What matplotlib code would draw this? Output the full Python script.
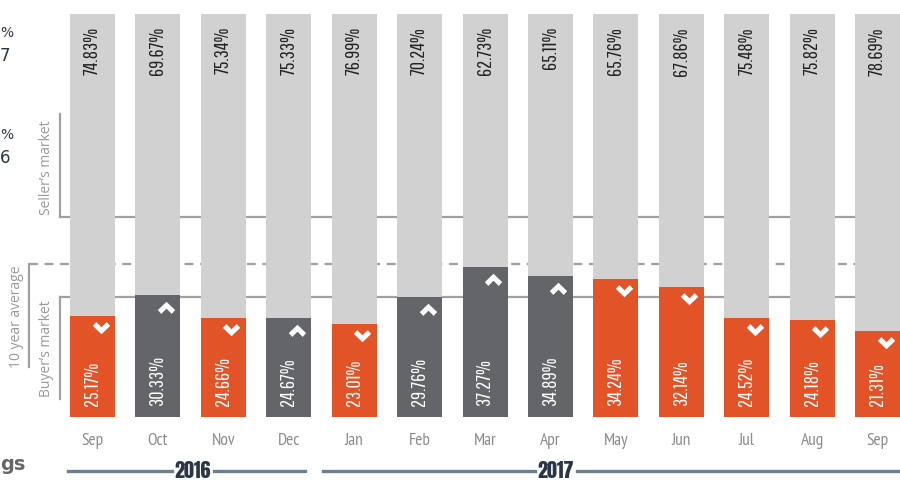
import matplotlib
matplotlib.use("Agg")
import matplotlib.pyplot as plt
from matplotlib.path import Path
import numpy as np

months = ["Sep", "Oct", "Nov", "Dec", "Jan", "Feb", "Mar", "Apr", "May", "Jun", "Jul", "Aug", "Sep"]
buyers = [25.17, 30.33, 24.66, 24.67, 23.01, 29.76, 37.27, 34.89, 34.24, 32.14, 24.52, 24.18, 21.31]
sellers = [74.83, 69.67, 75.34, 75.33, 76.99, 70.24, 62.73, 65.11, 65.76, 67.86, 75.48, 75.82, 78.69]
trend = ["down", "up", "down", "up", "down", "up", "up", "up", "down", "down", "down", "down", "down"]
seller_threshold = 49.6
ten_year_avg = 38.0
buyer_threshold = 29.8
years = ["2016", "2017"]

ORANGE = "#E25328"
DARK = "#636569"
LIGHT = "#D1D1D1"
LINEC = "#A0A0A0"
THIN = ["Pathway Gothic One", "PT Sans Narrow", "DejaVu Sans"]
MONTHF = ["PT Sans Narrow", "DejaVu Sans"]
YEARF = ["Anton", "IBM Plex Sans Condensed", "DejaVu Sans"]

W, H = 900, 481
fig = plt.figure(figsize=(9, 4.81), dpi=100)
bot = (481 - 418) / 481
top = (481 - 15) / 481
ax = fig.add_axes([0, bot, 1, top - bot])
pxu = 65.42
x0 = 92.5
ax.set_xlim(-x0 / pxu, (W - x0) / pxu)
ax.set_ylim(0, 100)
ax.axis("off")

def px2x(p):
    return (p - x0) / pxu

x = np.arange(len(months))
colors = [DARK if t == "up" else ORANGE for t in trend]
bw = 45 / pxu
ax.bar(x, buyers, width=bw, color=colors, zorder=3)
ax.bar(x, sellers, bottom=buyers, width=bw, color=LIGHT, zorder=3)

# reference lines behind bars
ax.plot([px2x(60), px2x(900)], [seller_threshold] * 2, color=LINEC, lw=1.6, zorder=1, clip_on=False)
ax.plot([px2x(60), px2x(900)], [buyer_threshold] * 2, color=LINEC, lw=1.6, zorder=1, clip_on=False)
ax.plot([px2x(29), px2x(900)], [ten_year_avg] * 2, color=LINEC, lw=1.6, ls=(0, (4, 3)), zorder=1, clip_on=False)
# brackets
ax.plot([px2x(60), px2x(60)], [seller_threshold, seller_threshold + 25.5], color=LINEC, lw=1.6, clip_on=False)
ax.plot([px2x(60), px2x(60)], [buyer_threshold, buyer_threshold - 25.3], color=LINEC, lw=1.6, clip_on=False)
ax.plot([px2x(29), px2x(29)], [ten_year_avg, ten_year_avg - 25.5], color=LINEC, lw=1.6, clip_on=False)

lblkw = dict(rotation=90, color="#9A9A9A", fontsize=10, family=["Open Sans", "DejaVu Sans"], ha="center", va="center")
ax.text(px2x(47), seller_threshold + 12.4, "Seller\u2019s market", **lblkw)
ax.text(px2x(47), buyer_threshold - 12.5, "Buyer\u2019s market", **lblkw)
ax.text(px2x(17), ten_year_avg - 12.8, "10 year average", **lblkw)

# value labels
for xi, b, s in zip(x, buyers, sellers):
    ax.text(xi, 3.0, f"{b:.2f}%", rotation=90, color="white", fontsize=14.5,
            family=THIN, ha="center", va="bottom", zorder=5)
    ax.text(xi, 97.0, f"{s:.2f}%", rotation=90, color="#222222", fontsize=14.5,
            family=THIN, ha="center", va="top", zorder=5)

# chevrons
down = Path([(-1, 0.3), (-0.6, 0.74), (0, 0.14), (0.6, 0.74), (1, 0.3), (0, -0.66), (-1, 0.3)],
            [Path.MOVETO] + [Path.LINETO] * 5 + [Path.CLOSEPOLY])
up = Path([(-1, -0.3), (-0.6, -0.74), (0, -0.14), (0.6, -0.74), (1, -0.3), (0, 0.66), (-1, -0.3)],
          [Path.MOVETO] + [Path.LINETO] * 5 + [Path.CLOSEPOLY])
dy = 12 / 4.03
for xi, b, t in zip(x, buyers, trend):
    ax.plot([xi + 8 / pxu], [b - dy], marker=up if t == "up" else down, markersize=12.5,
            color="white", markeredgewidth=0, zorder=6, linestyle="none")

# month labels
for xi, m in zip(x, months):
    fig.text(xi * pxu / W + x0 / W, 1 - 441 / H, m, color="#8C8C8C", fontsize=12.5,
             family=MONTHF, ha="center", va="center")

# year lines
YL = "#6E7F8D"
yl = 1 - 472 / H
fig.add_artist(plt.Line2D([68 / W, 172 / W], [yl, yl], color=YL, lw=2.4))
fig.add_artist(plt.Line2D([214 / W, 305 / W], [yl, yl], color=YL, lw=2.4))
fig.add_artist(plt.Line2D([323 / W, 535 / W], [yl, yl], color=YL, lw=2.4))
fig.add_artist(plt.Line2D([577 / W, 900 / W], [yl, yl], color=YL, lw=2.4))
fig.text(193 / W, 1 - 471 / H, years[0], color="#2A3547", fontsize=14.5, fontweight="bold",
         family=YEARF, ha="center", va="center")
fig.text(556 / W, 1 - 471 / H, years[1], color="#2A3547", fontsize=14.5, fontweight="bold",
         family=YEARF, ha="center", va="center")

# partial texts at left edge
fig.text(0, 1 - 33 / H, "%", color="#2A3547", fontsize=10, ha="left", va="center")
fig.text(0, 1 - 56 / H, "7", color="#2A3547", fontsize=12, ha="left", va="center")
fig.text(0, 1 - 135 / H, "%", color="#2A3547", fontsize=10, ha="left", va="center")
fig.text(0, 1 - 158 / H, "6", color="#2A3547", fontsize=12, ha="left", va="center")
fig.text(0, 1 - 464 / H, "gs", color="#666666", fontsize=14, fontweight="bold", ha="left", va="center")

fig.savefig("out.png", dpi=100)
